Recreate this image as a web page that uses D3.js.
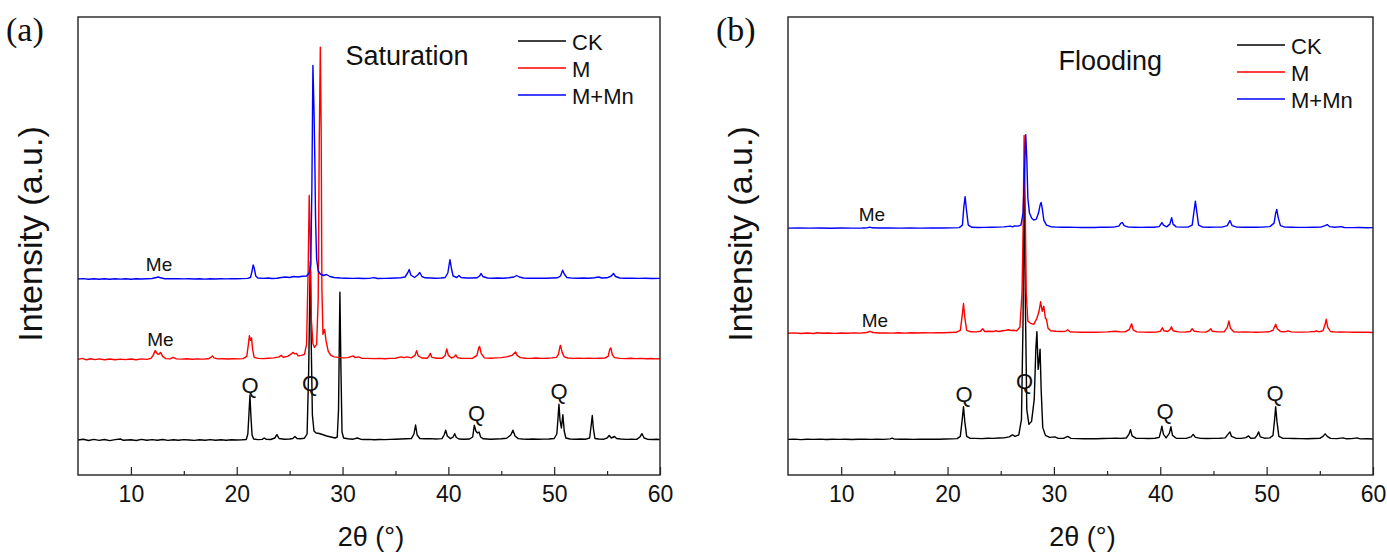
<!DOCTYPE html>
<html>
<head>
<meta charset="utf-8">
<script src="https://cdn.jsdelivr.net/npm/d3@7"></script>
<style>
  body { margin: 0; background: #fff; }
  svg { display: block; }
</style>
</head>
<body>
<svg id="chart" width="1387" height="552"></svg>
<script>
// ---- tick values ----
const xMajorTicks = [10, 20, 30, 40, 50, 60];
const xMinorTicks = [15, 25, 35, 45, 55];
const seriesNames = ["CK", "M", "M+Mn"];

// ---- (a) Saturation: XRD patterns, [2θ, counts] ----
const satCK = [[5,0],[5.5,8],[6,-5],[6.5,6],[7,-4],[7.5,5],[8,-6],[8.5,4],[9,10],[9.3,-3],[10,3],[10.5,-5],[11,6],[11.5,-3],[12,4],[12.5,-2],[13,5],[13.5,-4],[14,3],[14.5,-3],[15,4],[15.5,0],[16,-4],[16.5,3],[17,-2],[17.5,4],[18,-3],[18.5,2],[19,-2],[19.5,3],[20,0],[20.5,2],[20.9,5],
  [21.05,60],[21.15,250],[21.25,448],[21.35,220],[21.45,50],[21.6,10],[22,4],[22.4,6],[22.6,20],[22.8,6],[23.2,5],[23.6,20],[23.8,53],[24,15],[24.5,8],[25,10],[25.3,15],[25.5,35],[25.7,14],[26,12],[26.4,18],[26.65,60],[26.8,700],[26.95,1786],[27.05,900],[27.15,250],[27.3,90],[27.5,70],[27.8,65],[28.1,55],[28.5,40],[28.9,30],[29.3,20],[29.5,30],[29.62,300],[29.75,1478],[29.85,700],[29.95,80],[30.1,20],[30.5,12],[31,8],[31.4,20],[31.7,8],[32,5],[32.5,6],[33,3],[33.5,5],[34,4],[34.5,6],[35,8],[35.5,10],[36,12],[36.5,14],[36.75,60],[36.9,150],[37.05,50],[37.3,15],[37.8,12],[38.3,14],[38.8,10],[39.4,14],[39.6,50],[39.75,98],[39.9,40],[40.2,14],[40.45,30],[40.6,63],[40.75,25],[41,10],[41.5,8],[42,10],[42.3,30],[42.45,147],[42.6,90],[42.75,70],[42.9,80],[43.05,30],[43.3,12],[44,8],[44.5,10],[45,12],[45.5,18],[45.9,50],[46.1,98],[46.3,40],[46.6,14],[47,10],[47.5,8],[48,10],[48.5,8],[49,9],[49.5,10],[50,15],[50.25,60],[50.35,200],[50.45,357],[50.55,200],[50.68,120],[50.82,252],[50.95,90],[51.1,20],[51.5,10],[52,8],[52.5,10],[53,8],[53.35,20],[53.5,150],[53.6,245],[53.7,120],[53.85,15],[54.2,10],[54.7,8],[55,20],[55.2,45],[55.4,20],[55.7,35],[55.9,15],[56.3,10],[56.8,6],[57.3,8],[57.8,6],[58.1,30],[58.3,63],[58.5,20],[58.8,8],[59.3,5],[59.7,8],[60,4]];

const satM = [[5,0],[5.4,10],[5.8,-4],[6.2,6],[6.6,-2],[7,5],[7.5,-3],[8,4],[8.5,-4],[9,3],[9.5,-2],[10,4],[10.5,-3],[11,5],[11.5,0],[11.9,10],[12.1,40],[12.3,88],[12.5,55],[12.6,50],[12.8,70],[13,30],[13.3,8],[13.7,5],[14,20],[14.3,5],[14.8,3],[15.3,6],[15.8,2],[16.3,5],[16.8,3],[17.3,6],[17.55,20],[17.7,35],[17.85,15],[18.2,5],[18.7,6],[19.2,4],[19.7,7],[20.2,5],[20.6,8],[20.95,30],[21.1,150],[21.2,238],[21.3,190],[21.4,215],[21.5,100],[21.65,20],[22,10],[22.5,8],[23,12],[23.5,15],[24,25],[24.2,40],[24.4,22],[24.8,30],[25.1,50],[25.3,70],[25.5,55],[25.65,60],[25.8,35],[26.1,40],[26.4,50],[26.6,150],[26.75,900],[26.85,1639],[26.95,1200],[27.05,400],[27.2,160],[27.35,120],[27.55,150],[27.7,600],[27.8,2200],[27.9,3123],[27.98,2300],[28.05,700],[28.15,250],[28.3,300],[28.45,180],[28.65,80],[28.9,40],[29.2,25],[29.6,20],[30,15],[30.5,18],[31,35],[31.2,18],[31.5,25],[31.8,12],[32.3,10],[33,8],[33.5,10],[34,7],[34.5,10],[35,12],[35.5,25],[35.8,18],[36.1,25],[36.5,15],[36.85,40],[37,88],[37.15,35],[37.5,14],[38,12],[38.15,30],[38.3,60],[38.45,20],[38.9,12],[39.4,12],[39.7,40],[39.85,105],[40,40],[40.3,14],[40.55,25],[40.7,45],[40.85,18],[41.2,12],[41.8,10],[42.3,12],[42.7,40],[42.85,110],[42.95,130],[43.1,60],[43.4,15],[44,12],[44.5,15],[45,18],[45.5,25],[46,40],[46.2,60],[46.35,75],[46.5,40],[46.8,18],[47.3,12],[47.8,10],[48.3,14],[48.8,10],[49.3,12],[49.8,15],[50.2,20],[50.4,50],[50.55,130],[50.6,140],[50.75,70],[50.95,25],[51.3,14],[51.8,10],[52.3,12],[52.8,10],[53.3,12],[53.8,10],[54.3,12],[54.8,14],[55.1,30],[55.25,100],[55.35,115],[55.5,45],[55.7,18],[56.2,10],[56.7,8],[57.2,12],[57.7,8],[58.2,10],[58.7,6],[59.2,9],[59.6,5],[60,6]];

const satMMn = [[5,0],[5.5,4],[6,-2],[6.5,3],[7,-3],[7.5,2],[8,-2],[8.5,3],[9,-1],[9.5,2],[10,-2],[10.5,3],[11,0],[11.5,2],[12,5],[12.4,15],[12.6,20],[12.8,12],[13.2,3],[13.8,2],[14.5,4],[15,1],[15.5,3],[16,0],[16.5,2],[17,-1],[17.5,3],[18,0],[18.5,2],[19,1],[19.5,3],[20,2],[20.5,4],[21,6],[21.3,15],[21.45,80],[21.55,140],[21.65,110],[21.8,30],[22,10],[22.5,6],[23,10],[23.3,5],[23.8,8],[24.2,15],[24.6,20],[25,15],[25.4,25],[25.8,20],[26.2,28],[26.6,30],[26.85,60],[27,150],[27.1,900],[27.2,2136],[27.3,1700],[27.38,1200],[27.45,600],[27.55,200],[27.7,80],[27.9,50],[28.2,35],[28.5,45],[28.8,25],[29.2,15],[29.8,10],[30.3,8],[31,6],[31.5,8],[32,5],[32.5,6],[33,14],[33.3,5],[34,6],[34.5,8],[35,10],[35.5,12],[35.9,20],[36.15,60],[36.3,95],[36.45,40],[36.8,15],[37.1,40],[37.3,65],[37.5,25],[37.8,12],[38.3,10],[38.8,8],[39.3,10],[39.7,15],[39.95,60],[40.15,193],[40.3,100],[40.45,30],[40.8,15],[41,35],[41.2,15],[41.7,10],[42.2,10],[42.7,12],[42.95,30],[43.1,55],[43.25,25],[43.7,10],[44.2,8],[44.7,10],[45.2,8],[45.7,12],[46.2,20],[46.45,35],[46.7,20],[47.1,10],[47.6,8],[48.2,7],[48.8,9],[49.3,7],[49.8,10],[50.3,12],[50.6,30],[50.8,88],[50.95,50],[51.2,15],[51.7,9],[52.2,7],[52.8,10],[53.3,8],[53.8,12],[54.2,20],[54.5,10],[55,12],[55.4,30],[55.6,55],[55.8,25],[56.2,10],[56.7,7],[57.3,8],[58,6],[58.6,8],[59.3,5],[60,6]];

// ---- (b) Flooding ----
const floodCK = [[5,0],[5.6,3],[6.2,-2],[6.8,2],[7.4,0],[8,3],[8.6,-1],[9.2,2],[9.8,0],[10.4,2],[11,-1],[11.6,1],[12.2,2],[12.8,0],[13.4,2],[14,0],[14.6,5],[14.8,12],[15,3],[15.6,1],[16.2,2],[16.8,0],[17.4,2],[18,1],[18.6,3],[19.2,2],[19.8,4],[20.4,5],[20.9,8],[21.2,30],[21.38,200],[21.5,326],[21.62,180],[21.8,30],[22.1,12],[22.6,10],[23.2,8],[23.8,12],[24.3,10],[24.8,14],[25.3,15],[25.8,25],[26.1,45],[26.35,30],[26.7,45],[26.95,200],[27.1,1200],[27.2,2707],[27.3,1500],[27.45,300],[27.65,150],[27.9,180],[28.15,400],[28.3,900],[28.4,1078],[28.52,700],[28.62,800],[28.7,903],[28.8,500],[28.95,120],[29.2,40],[29.6,20],[30.1,25],[30.4,10],[30.9,10],[31.3,30],[31.6,10],[32.2,8],[32.8,6],[33.4,8],[34,6],[34.6,9],[35.2,10],[35.8,12],[36.3,10],[36.8,14],[37.05,50],[37.2,98],[37.35,35],[37.7,12],[38.3,10],[38.9,9],[39.5,12],[39.9,20],[40.05,80],[40.15,133],[40.3,50],[40.55,15],[40.85,60],[41,126],[41.15,40],[41.5,12],[42,10],[42.5,12],[42.9,25],[43.1,50],[43.3,20],[43.8,10],[44.4,9],[45,10],[45.6,12],[46.1,15],[46.4,55],[46.55,75],[46.7,30],[47.1,12],[47.6,10],[48.05,18],[48.3,35],[48.5,12],[48.9,14],[49.1,40],[49.25,75],[49.4,25],[49.8,12],[50.3,15],[50.6,40],[50.75,200],[50.85,326],[50.97,180],[51.15,30],[51.5,12],[52,10],[52.6,9],[53.2,8],[53.8,7],[54.4,9],[55,10],[55.3,30],[55.5,55],[55.7,30],[56,10],[56.6,8],[57.2,15],[57.5,6],[58,8],[58.5,15],[58.8,5],[59.4,6],[60,4]];

const floodM = [[5,0],[5.6,4],[6.2,-2],[6.8,3],[7.4,-2],[7.8,6],[8.2,0],[8.8,3],[9.4,-1],[10,3],[10.6,0],[11.2,4],[11.8,2],[12.4,8],[12.7,20],[13,8],[13.6,3],[14.2,4],[14.8,2],[15.4,5],[16,2],[16.6,5],[17.2,3],[17.8,6],[18.4,4],[19,6],[19.6,5],[20.2,8],[20.8,10],[21.2,30],[21.38,180],[21.5,298],[21.62,160],[21.8,30],[22.2,15],[22.7,14],[23.1,20],[23.3,45],[23.5,18],[23.9,20],[24.3,18],[24.5,25],[24.8,18],[25.2,25],[25.5,30],[25.7,35],[26,28],[26.2,30],[26.5,25],[26.8,60],[27,400],[27.1,1000],[27.2,1978],[27.3,1300],[27.4,400],[27.55,120],[27.8,100],[28.1,90],[28.4,150],[28.6,220],[28.75,315],[28.9,220],[29.05,270],[29.2,150],[29.3,140],[29.45,50],[29.7,25],[30.2,20],[30.7,18],[31.1,20],[31.3,35],[31.5,15],[32,12],[32.6,10],[33.2,12],[33.8,10],[34.4,12],[35,14],[35.5,18],[35.8,20],[36.2,16],[36.7,14],[37.1,40],[37.3,95],[37.45,35],[37.8,14],[38.4,12],[39,10],[39.6,12],[40,20],[40.2,55],[40.35,25],[40.7,18],[40.95,40],[41.05,65],[41.2,25],[41.7,14],[42.3,12],[42.8,18],[43,45],[43.2,20],[43.7,14],[44.3,12],[44.6,30],[44.75,45],[44.9,20],[45.4,14],[46,15],[46.3,60],[46.45,123],[46.6,50],[46.9,16],[47.4,12],[48,14],[48.5,12],[49,11],[49.6,12],[50.2,15],[50.6,30],[50.85,90],[51,45],[51.3,18],[51.7,15],[52,25],[52.3,14],[52.8,12],[53.4,12],[54,14],[54.5,18],[54.7,25],[54.9,14],[55.3,25],[55.5,90],[55.6,140],[55.75,60],[56,18],[56.5,12],[57,14],[57.6,12],[58.2,10],[58.8,12],[59.4,10],[60,8]];

const floodMMn = [[5,0],[6,2],[7,0],[8,1],[9,-1],[10,1],[11,0],[12,1],[12.5,4],[12.7,10],[12.9,3],[13.5,1],[14.5,1],[15.5,0],[16.5,1],[17.5,0],[18.5,1],[19.5,1],[20.5,2],[21.1,5],[21.4,30],[21.52,200],[21.65,315],[21.78,180],[21.95,30],[22.3,8],[22.9,6],[23.5,7],[24.1,8],[24.7,10],[25.3,12],[25.9,20],[26.1,12],[26.3,22],[26.6,20],[26.9,30],[27.1,150],[27.25,600],[27.35,935],[27.45,700],[27.55,300],[27.7,150],[27.9,100],[28.1,80],[28.35,90],[28.55,150],[28.7,230],[28.8,256],[28.9,200],[29.05,80],[29.3,30],[29.7,14],[30.2,10],[30.8,8],[31.4,10],[32,7],[32.6,6],[33.2,7],[33.8,6],[34.4,8],[35,8],[35.6,10],[36.1,20],[36.3,50],[36.45,55],[36.6,25],[37,10],[37.6,8],[38.2,7],[38.8,8],[39.4,8],[39.9,15],[40.15,55],[40.3,30],[40.6,12],[40.9,40],[41.07,105],[41.2,40],[41.5,12],[42,10],[42.6,10],[43,30],[43.15,150],[43.3,270],[43.45,150],[43.6,30],[44,10],[44.6,9],[45.2,10],[45.8,10],[46.3,25],[46.55,75],[46.75,25],[47.2,10],[47.8,8],[48.4,8],[49,9],[49.6,10],[50.3,15],[50.7,50],[50.85,150],[50.95,186],[51.1,100],[51.3,25],[51.7,10],[52.3,8],[53,7],[53.7,7],[54.4,8],[55.1,10],[55.5,25],[55.7,35],[55.9,15],[56.4,8],[57,15],[57.3,6],[58,5],[58.7,6],[59.4,4],[60,5]];

// vertical stacking offsets (counts) for CK, M, M+Mn
const satOffsets = [350, 1156, 1960];
const floodOffsets = [356, 1417, 2469];

// peak labels: [2θ, counts]
const satQ = [[21.25, 893], [26.97, 920], [42.67, 613], [50.45, 840]];
const satMe = [[12.66, 2101], [12.79, 1359]];
const floodQ = [[21.55, 806], [27.23, 935], [40.45, 637], [50.8, 812]];
const floodMe = [[12.89, 2609], [13.18, 1541]];

const colors = ["#000000", "#ff0000", "#0000ff"];
const svg = d3.select("#chart");
const FONT = "'Liberation Sans', Arial, sans-serif";

function drawPanel(cfg) {
  const x = d3.scaleLinear().domain([5, 60]).range([cfg.left, cfg.right]);
  const y = d3.scaleLinear().domain([0, 4580]).range([cfg.bottom, cfg.top]);
  const g = svg.append("g");

  const line = d3.line().x(d => x(d[0]));
  cfg.series.forEach((s, i) => {
    const off = cfg.offsets[i];
    g.append("path")
      .datum(s)
      .attr("fill", "none")
      .attr("stroke", colors[i])
      .attr("stroke-width", 1.4)
      .attr("stroke-linejoin", "round")
      .attr("d", line.y(d => y(d[1] + off)));
  });

  // frame
  g.append("rect")
    .attr("x", cfg.left).attr("y", cfg.top)
    .attr("width", cfg.right - cfg.left).attr("height", cfg.bottom - cfg.top)
    .attr("fill", "none").attr("stroke", "#222").attr("stroke-width", 1.4);

  // axes: ticks pointing inward
  const ax = g.append("g").attr("transform", `translate(0,${cfg.bottom})`)
    .call(d3.axisBottom(x).tickValues(xMajorTicks).tickSize(-8).tickSizeOuter(0).tickPadding(11));
  ax.select(".domain").remove();
  ax.selectAll("line").attr("stroke", "#222").attr("stroke-width", 1.2);
  ax.selectAll("text").attr("font-family", FONT).attr("font-size", 23).attr("fill", "#111");

  const axm = g.append("g").attr("transform", `translate(0,${cfg.bottom})`)
    .call(d3.axisBottom(x).tickValues(xMinorTicks).tickSize(-4).tickSizeOuter(0).tickFormat(""));
  axm.select(".domain").remove();
  axm.selectAll("line").attr("stroke", "#222").attr("stroke-width", 1.2);

  // axis titles
  g.append("text")
    .attr("x", (cfg.left + cfg.right) / 2 + 2).attr("y", 546)
    .attr("text-anchor", "middle")
    .attr("font-family", FONT).attr("font-size", 27).attr("fill", "#111")
    .text("2θ (°)");
  g.append("text")
    .attr("transform", `translate(${cfg.left - 36},234) rotate(-90)`)
    .attr("text-anchor", "middle")
    .attr("font-family", FONT).attr("font-size", 34).attr("fill", "#111")
    .text("Intensity (a.u.)");

  // panel letter
  g.append("text")
    .attr("x", cfg.left - 72).attr("y", 41)
    .attr("font-family", "'Liberation Serif', 'Times New Roman', serif")
    .attr("font-size", 34).attr("fill", "#111")
    .text(cfg.letter);

  // condition title
  g.append("text")
    .attr("x", x(cfg.titleX)).attr("y", cfg.titleY)
    .attr("text-anchor", "middle").attr("dominant-baseline", "central")
    .attr("font-family", FONT).attr("font-size", 27).attr("fill", "#111")
    .text(cfg.title);

  // legend
  const lg = g.append("g");
  seriesNames.forEach((name, i) => {
    const ly = cfg.legendY + i * 27;
    lg.append("line")
      .attr("x1", cfg.legendX).attr("x2", cfg.legendX + 48)
      .attr("y1", ly).attr("y2", ly)
      .attr("stroke", colors[i]).attr("stroke-width", 1.5);
    lg.append("text")
      .attr("x", cfg.legendX + 54).attr("y", ly + 1)
      .attr("dominant-baseline", "central")
      .attr("font-family", FONT).attr("font-size", 22).attr("fill", "#111")
      .text(name);
  });

  // peak markers
  cfg.q.forEach(d => {
    g.append("text")
      .attr("x", x(d[0])).attr("y", y(d[1]))
      .attr("text-anchor", "middle").attr("dominant-baseline", "central")
      .attr("font-family", FONT).attr("font-size", 22).attr("fill", "#111")
      .text("Q");
  });
  cfg.me.forEach(d => {
    g.append("text")
      .attr("x", x(d[0])).attr("y", y(d[1]))
      .attr("text-anchor", "middle").attr("dominant-baseline", "central")
      .attr("font-family", FONT).attr("font-size", 19).attr("fill", "#111")
      .text("Me");
  });
}

drawPanel({
  left: 78, right: 660, top: 17, bottom: 475,
  series: [satCK, satM, satMMn], offsets: satOffsets,
  letter: "(a)", title: "Saturation", titleX: 36.1, titleY: 56,
  legendX: 518, legendY: 41,
  q: satQ, me: satMe
});

drawPanel({
  left: 788, right: 1373, top: 17, bottom: 475,
  series: [floodCK, floodM, floodMMn], offsets: floodOffsets,
  letter: "(b)", title: "Flooding", titleX: 35.3, titleY: 61,
  legendX: 1237, legendY: 45,
  q: floodQ, me: floodMe
});
</script>
</body>
</html>
